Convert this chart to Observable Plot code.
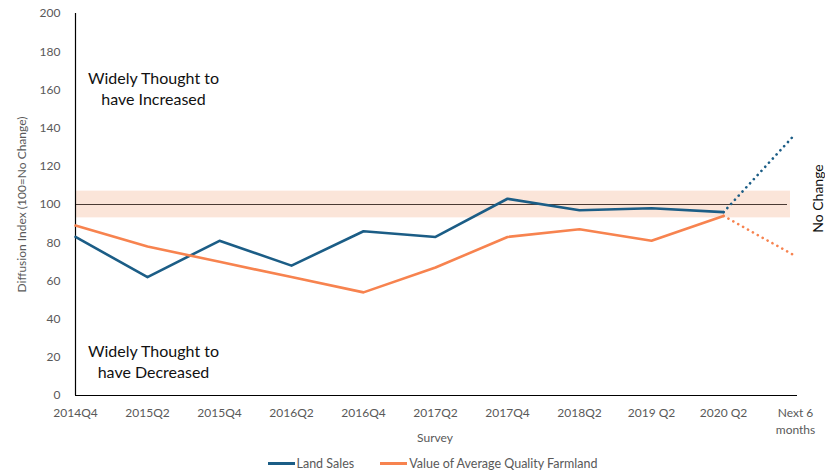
<!DOCTYPE html>
<html><head><meta charset="utf-8">
<script src="https://cdn.jsdelivr.net/npm/d3@7"></script>
<script src="https://cdn.jsdelivr.net/npm/@observablehq/plot@0.6"></script>
<style>
body{margin:0;background:#fff;font-family:Lato,"Open Sans",sans-serif;}
#wrap{position:relative;width:825px;height:476px;}
#legend{position:absolute;left:0;top:456px;width:825px;display:flex;justify-content:center;gap:26px;font-size:12.5px;color:#595959;font-family:Lato,sans-serif;padding-left:40px;box-sizing:border-box}
#legend span{display:inline-flex;align-items:center}
#legend i{display:inline-block;width:27px;height:3px;margin-right:2px}
</style></head>
<body><div id="wrap"><div id="legend"></div></div>
<script>
const categories = ["2014Q4","2015Q2","2015Q4","2016Q2","2016Q4","2017Q2","2017Q4","2018Q2","2019 Q2","2020 Q2","Next 6 months"];
const tickLabels = ["2014Q4","2015Q2","2015Q4","2016Q2","2016Q4","2017Q2","2017Q4","2018Q2","2019 Q2","2020 Q2","Next 6\nmonths"];
const landSales = [83, 62, 81, 68, 86, 83, 103, 97, 98, 96, 137];
const farmland = [89, 78, 70, 62, 54, 67, 83, 87, 81, 94, 73];
const seriesNames = ["Land Sales", "Value of Average Quality Farmland"];
const colors = ["#1b5d86", "#f7834f"];
const noChangeBand = [93, 107];
const yTicks = [0,20,40,60,80,100,120,140,160,180,200];
const annotations = ["Widely Thought to\nhave Increased", "Widely Thought to\nhave Decreased", "No Change"];

const rows = [];
categories.forEach((c,i)=>{
  rows.push({cat:c, i, series:seriesNames[0], v:landSales[i]});
  rows.push({cat:c, i, series:seriesNames[1], v:farmland[i]});
});
const n = categories.length;
const solid = rows.filter(d=>d.i <= n-2);
const dotted = rows.filter(d=>d.i >= n-2);
const first = () => categories[0];
const last = () => categories[n-1];
const second = () => categories[1];

const chart = Plot.plot({
  width: 825, height: 476,
  marginLeft: 74, marginRight: 30, marginTop: 13, marginBottom: 81,
  style: {fontFamily: "Lato, 'Open Sans', sans-serif", fontSize: "12px", color: "#595959", background: "#fff"},
  x: {type: "point", domain: categories, padding: 0},
  y: {domain: [0, 200]},
  color: {domain: seriesNames, range: colors},
  marks: [
    Plot.rect([noChangeBand], {x1: first, x2: last, y1: d => d[0], y2: d => d[1], fill: "#fbe5d9", insetRight: 5}),
    Plot.ruleY([100], {x1: first, x2: last, stroke: "#4a3a33", strokeWidth: 1.2, insetRight: 8}),
    Plot.axisY({ticks: yTicks, tickSize: 0, tickPadding: 14, fontSize: 12, fill: "#595959",
      label: "Diffusion Index (100=No Change)", labelAnchor: "center", labelOffset: 57, labelArrow: "none"}),
    Plot.axisX({tickSize: 0, tickPadding: 9, fontSize: 12, fill: "#595959", lineHeight: 1.45,
      tickFormat: (d) => tickLabels[categories.indexOf(d)],
      label: "Survey", labelAnchor: "center", labelOffset: 46, labelArrow: "none"}),
    Plot.ruleX([0], {x: first, y1: 0, y2: 200, stroke: "#000", strokeWidth: 1.2}),
    Plot.ruleY([0], {x1: first, x2: last, stroke: "#000", strokeWidth: 1.2, insetRight: -2}),
    Plot.line(solid, {x: "cat", y: "v", z: "series", stroke: "series", strokeWidth: 2.6}),
    Plot.line(dotted, {x: "cat", y: "v", z: "series", stroke: "series", strokeWidth: 2.6, strokeDasharray: "0.1,5.5", strokeLinecap: "round"}),
    Plot.text([annotations[0]], {text: d => d, x: second, y: () => 161, dx: 6, fontSize: 16, fill: "#111", lineHeight: 1.3, fontFamily: "Lato, 'Open Sans', sans-serif"}),
    Plot.text([annotations[1]], {text: d => d, x: second, y: () => 18, dx: 6, fontSize: 16, fill: "#111", lineHeight: 1.3, fontFamily: "Lato, 'Open Sans', sans-serif"}),
    Plot.text([annotations[2]], {text: d => d, x: last, y: () => 100, dx: 23, dy: -6, rotate: -90, fontSize: 14, fill: "#111"})
  ]
});
document.getElementById("wrap").prepend(chart);
const legend = document.getElementById("legend");
seriesNames.forEach((s,k)=>{
  const sp = document.createElement("span");
  sp.innerHTML = `<i style="background:${colors[k]}"></i>${s}`;
  legend.appendChild(sp);
});
</script></body></html>
